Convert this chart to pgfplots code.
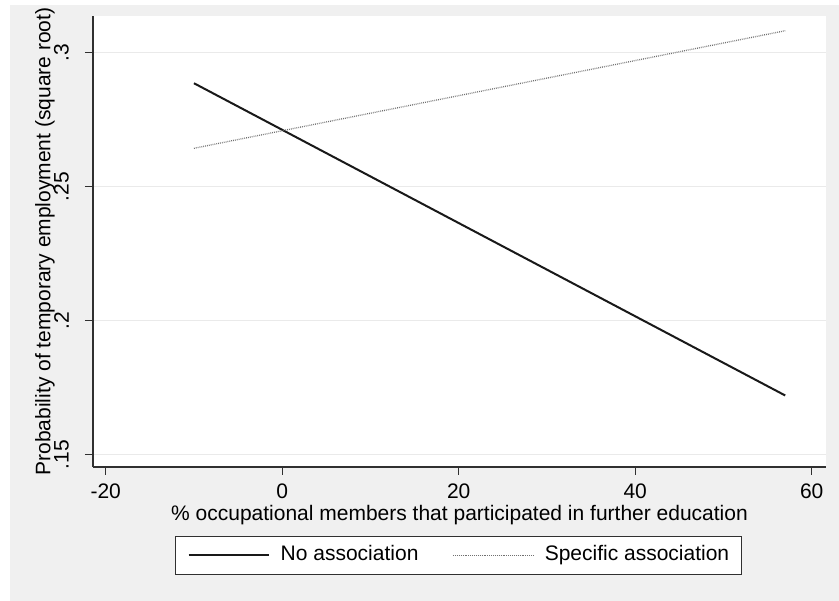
\documentclass[border=0pt]{standalone}
\usepackage{fontspec}
\setmainfont{Liberation Sans}
\usepackage{pgfplots}
\pgfplotsset{compat=1.18}
\definecolor{bg}{HTML}{F0F0F0}
\definecolor{gridc}{HTML}{EAEAEA}
\definecolor{axc}{HTML}{303030}
\definecolor{dotc}{HTML}{707070}
\newcommand{\chartfont}{\fontsize{21bp}{25bp}\selectfont}
\begin{document}
\begin{tikzpicture}
\useasboundingbox (0,0) rectangle (839bp,601bp);
\fill[white] (0,0) rectangle (839bp,601bp);
\fill[bg] (10bp,0) rectangle (839bp,596bp);
\begin{axis}[
  at={(93bp,134bp)}, anchor=south west,
  scale only axis, width=733bp, height=451bp,
  xmin=-21.44, xmax=61.62, ymin=0.1453, ymax=0.3137,
  axis x line*=bottom, axis y line*=left,
  axis line style={axc, line width=1.6bp},
  axis background/.style={fill=white},
  xtick={-20,0,20,40,60}, xticklabels={-20,0,20,40,60},
  ytick={0.15,0.2,0.25,0.3}, yticklabels={.15,.2,.25,.3},
  tick align=outside, major tick length=8bp,
  tick style={axc, line width=1.3bp},
  ymajorgrids, grid style={gridc, line width=1.2bp},
  tick label style={font=\chartfont, inner sep=0pt},
  xticklabel style={anchor=north, yshift=-9bp},
  yticklabel style={xshift=-16bp, rotate=90, anchor=south},
  every axis x label/.style={at={(axis description cs:0.5,0)}, anchor=north, yshift=-38.4bp, inner sep=0pt, font=\chartfont},
  every axis y label/.style={at={(axis description cs:-0.052,0.5)}, rotate=90, anchor=south, inner sep=0pt, font=\chartfont},
  xlabel={\% occupational members that participated in further education},
  ylabel={Probability of temporary employment (square root)},
  legend columns=2,
  legend style={at={(0.4986,-0.153)}, anchor=north, draw=axc, line width=1bp, fill=white, font=\chartfont,
    inner xsep=12bp, inner ysep=9bp,
    nodes={inner sep=0pt, text height=15bp, text depth=4.5bp},
    /tikz/every odd column/.append style={column sep=11bp},
    /tikz/every even column/.append style={column sep=34bp}},
  legend image code/.code={\draw[#1] (0bp,0bp) -- (80bp,0bp);},
]
\addplot[black!90, line width=2bp] coordinates {(-10,0.2886) (57,0.1720)};
\addlegendentry{No association}
\addplot[dotc, line width=1.3bp, dash pattern=on 0.8bp off 1.1bp] coordinates {(-10,0.2643) (57,0.3082)};
\addlegendentry{Specific association}
\end{axis}
\end{tikzpicture}
\end{document}
